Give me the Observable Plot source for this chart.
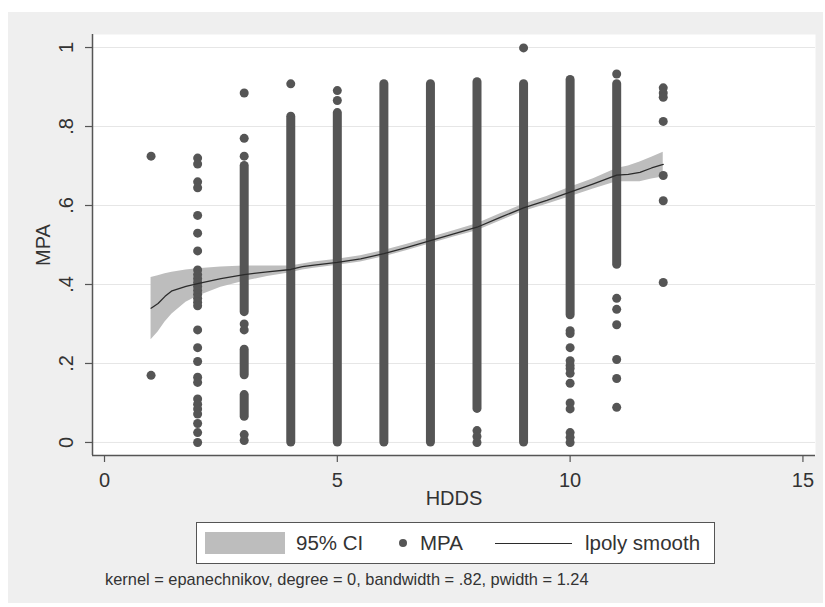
<!DOCTYPE html>
<html>
<head>
<meta charset="utf-8">
<script src="https://cdn.jsdelivr.net/npm/d3@7"></script>
<script src="https://cdn.jsdelivr.net/npm/@observablehq/plot@0.6"></script>
<style>
  body { margin: 0; background: #ffffff; font-family: "Liberation Sans", Arial, sans-serif; }
  #wrap { position: absolute; left: 8px; top: 12px; width: 815px; height: 591px; background: #efefef; }
  #chart { position: absolute; left: 0; top: 0; }
  #legend { position: absolute; left: 188px; top: 510px; width: 519px; height: 42px; background: #fff;
            border: 1.5px solid #555; box-sizing: border-box; color: #333; font-size: 20.5px; }
  #legend .it { position: absolute; top: 0; line-height: 40px; white-space: nowrap; }
  #legend .sw { position: absolute; top: 9px; width: 80px; height: 22px; background: #bdbdbd; }
  #legend .dt { position: absolute; top: 16px; width: 8px; height: 8px; border-radius: 50%; background: #555; }
  #legend .ln { position: absolute; top: 20px; width: 77px; height: 0; border-top: 1.3px solid #2b2b2b; }
  #caption { position: absolute; left: 97px; top: 558px; font-size: 16.4px; line-height: 18px; color: #333; white-space: nowrap; }
</style>
</head>
<body>
<div id="wrap">
  <div id="chart"></div>
  <div id="legend">
    <div class="sw" style="left:8px"></div>
    <div class="it" style="left:99px">95% CI</div>
    <div class="dt" style="left:202px"></div>
    <div class="it" style="left:223px">MPA</div>
    <div class="ln" style="left:298px"></div>
    <div class="it" style="left:388px">lpoly smooth</div>
  </div>
  <div id="caption">kernel = epanechnikov, degree = 0, bandwidth = .82, pwidth = 1.24</div>
</div>
<script>
// ---- Data ----
const hddsCategories = [1, 2, 3, 4, 5, 6, 7, 8, 9, 10, 11, 12];

// isolated MPA observations per HDDS value
const dots1  = [0.725, 0.17];
const dots2  = [0.72, 0.705, 0.66, 0.645, 0.575, 0.53, 0.485, 0.437, 0.425, 0.415, 0.405, 0.395, 0.385,
                0.375, 0.365, 0.355, 0.346, 0.285, 0.24, 0.205, 0.165, 0.152, 0.11, 0.097, 0.085, 0.072,
                0.048, 0.025, 0];
const dots3  = [0.885, 0.77, 0.725, 0.30, 0.285, 0.02, 0.005];
const dots4  = [0.908];
const dots5  = [0.891, 0.866];
const dots6  = [];
const dots7  = [];
const dots8  = [0.03, 0.015, 0];
const dots9  = [0.999];
const dots10 = [0.283, 0.276, 0.24, 0.207, 0.195, 0.187, 0.175, 0.15, 0.10, 0.085, 0.025, 0.013, 0];
const dots11 = [0.933, 0.365, 0.337, 0.298, 0.21, 0.162, 0.089];
const dots12 = [0.898, 0.885, 0.874, 0.813, 0.676, 0.612, 0.405];

// densely packed runs of observations (solid bars of dots)
const runHdds   = [3,    3,     3,    4,     5,     6,     7,     8,     9,     10,    11];
const runTop    = [0.70, 0.235, 0.12, 0.825, 0.834, 0.907, 0.907, 0.912, 0.907, 0.918, 0.907];
const runBottom = [0.33, 0.17,  0.065, 0,    0,     0,     0,     0.085, 0,     0.322, 0.45];

// local polynomial smooth and its 95% CI
const smoothX  = [1.0, 1.15, 1.3, 1.45, 1.75, 2.0, 2.5, 3.0, 3.5, 4.0, 4.25, 4.5, 5.0, 5.5, 6.0, 6.5,
                  7.0, 7.5, 8.0, 8.5, 9.0, 9.5, 10.0, 10.5, 11.0, 11.25, 11.5, 11.75, 12.0];
const smoothY  = [0.34, 0.352, 0.37, 0.384, 0.395, 0.402, 0.415, 0.425, 0.432, 0.438, 0.445, 0.449,
                  0.456, 0.465, 0.478, 0.494, 0.511, 0.528, 0.545, 0.57, 0.594, 0.613, 0.634, 0.655,
                  0.677, 0.679, 0.684, 0.695, 0.704];
const ciLow    = [0.26, 0.28, 0.305, 0.325, 0.355, 0.37, 0.393, 0.408, 0.42, 0.43, 0.437, 0.441, 0.449,
                  0.457, 0.47, 0.486, 0.503, 0.52, 0.536, 0.561, 0.585, 0.603, 0.622, 0.642, 0.66,
                  0.66, 0.66, 0.667, 0.672];
const ciHigh   = [0.418, 0.422, 0.427, 0.431, 0.437, 0.44, 0.444, 0.447, 0.447, 0.447, 0.452, 0.457,
                  0.464, 0.473, 0.486, 0.502, 0.519, 0.536, 0.554, 0.579, 0.603, 0.623, 0.646, 0.668,
                  0.694, 0.70, 0.71, 0.722, 0.735];

const xTicks = [0, 5, 10, 15];
const yTicks = [0, 0.2, 0.4, 0.6, 0.8, 1];
const yTickLabels = ["0", ".2", ".4", ".6", ".8", "1"];

// ---- Build tables ----
const dotLists = [dots1, dots2, dots3, dots4, dots5, dots6, dots7, dots8, dots9, dots10, dots11, dots12];
const dots = hddsCategories.flatMap((h, i) => dotLists[i].map(v => ({h, v})));
const runs = runHdds.map((h, i) => ({h, top: runTop[i], bot: runBottom[i]}));
const smooth = smoothX.map((x, i) => ({x, y: smoothY[i], lo: ciLow[i], hi: ciHigh[i]}));
const yLab = yTicks.map((t, i) => ({t, s: yTickLabels[i]}));

const xDomain = [-0.258, 15.27];
const yDomain = [-0.033, 1.033];
const ink = "#555";
const txt = "#333";

const chart = Plot.plot({
  width: 815,
  height: 515,
  marginLeft: 84,
  marginRight: 8,
  marginTop: 22,
  marginBottom: 72,
  style: {background: "transparent", fontFamily: "Liberation Sans, Arial, sans-serif", fontSize: "20px"},
  x: {domain: xDomain},
  y: {domain: yDomain},
  marks: [
    Plot.frame({fill: "white", stroke: null}),
    Plot.gridY(yTicks, {stroke: "#e6e6e6", strokeOpacity: 1, strokeWidth: 1}),
    Plot.areaY(smooth, {x: "x", y1: "lo", y2: "hi", fill: "#bdbdbd", curve: "linear"}),
    Plot.ruleX(runs, {x: "h", y1: "top", y2: "bot", stroke: ink, strokeWidth: 9, strokeLinecap: "round"}),
    Plot.dot(dots, {x: "h", y: "v", r: 4.5, fill: ink, stroke: null}),
    Plot.line(smooth, {x: "x", y: "y", stroke: "#2b2b2b", strokeWidth: 1.3}),
    Plot.ruleX([xDomain[0]], {stroke: ink, strokeWidth: 1.5}),
    Plot.ruleY([yDomain[0]], {stroke: ink, strokeWidth: 1.5}),
    Plot.axisY({ticks: yTicks, tickSize: 7, tickFormat: () => "", label: null, stroke: ink, strokeWidth: 1.2}),
    Plot.axisX({ticks: xTicks, tickSize: 7, tickFormat: () => "", label: null, stroke: ink, strokeWidth: 1.2}),
    Plot.text(yLab, {x: xDomain[0], y: "t", text: "s", rotate: -90, dx: -26, textAnchor: "middle",
                     lineAnchor: "middle", fontSize: 20, fill: txt}),
    Plot.text(xTicks, {x: d => d, y: yDomain[0], text: d => String(d), dy: 25, lineAnchor: "middle",
                       fontSize: 20, fill: txt}),
    Plot.text(["MPA"], {frameAnchor: "left", dx: -49, rotate: -90, text: d => d, textAnchor: "middle",
                        lineAnchor: "middle", fontSize: 20, fill: txt}),
    Plot.text(["HDDS"], {frameAnchor: "bottom", dy: 43, text: d => d, lineAnchor: "middle",
                         fontSize: 20, fill: txt})
  ]
});
document.getElementById("chart").appendChild(chart);
</script>
</body>
</html>
